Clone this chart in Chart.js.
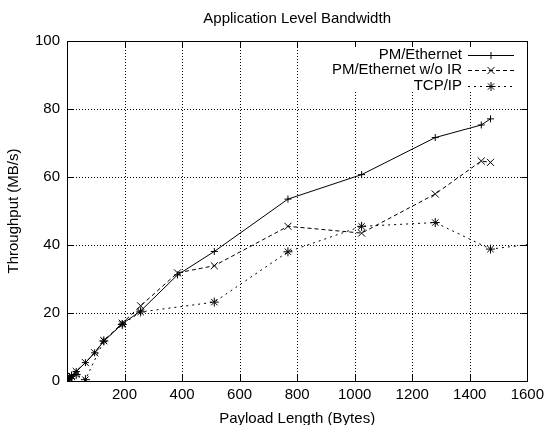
<!DOCTYPE html>
<html>
<head>
<meta charset="utf-8">
<script src="https://cdn.jsdelivr.net/npm/chart.js@4.4.0/dist/chart.umd.min.js"></script>
<style>
  html, body { margin: 0; padding: 0; background: #fff; }
</style>
</head>
<body>
<canvas id="chart" width="549" height="425"></canvas>
<script>
const chartTitle = 'Application Level Bandwidth'
const seriesNames = ['PM/Ethernet', 'PM/Ethernet w/o IR', 'TCP/IP']

// payload length (bytes) / throughput (MB/s)
const pmLength = [4, 8, 16, 32, 64, 96, 128, 192, 256, 384, 512, 768, 1024, 1280, 1440, 1472]
const pmThroughput = [0.3, 0.7, 1.3, 2.8, 5.4, 8.3, 11.7, 16.8, 20.6, 31.2, 38.1, 53.5, 60.7, 71.6, 75.3, 77.1]

const noIrLength = [4, 8, 16, 32, 64, 96, 128, 192, 256, 384, 512, 768, 1024, 1280, 1440, 1472]
const noIrThroughput = [0.3, 0.7, 1.3, 2.8, 5.4, 8.3, 11.9, 17.0, 22.1, 31.8, 33.9, 45.5, 43.5, 55.0, 64.7, 64.3]

const tcpLength = [4, 8, 16, 32, 64, 128, 192, 256, 512, 768, 1024, 1280, 1472, 1700]
const tcpThroughput = [0.5, 0.9, 1.5, 1.9, 0.4, 11.8, 16.6, 20.3, 23.2, 38.0, 45.5, 46.6, 38.8, 41.1]

const xTicks = [0, 200, 400, 600, 800, 1000, 1200, 1400, 1600]
const yTicks = [0, 20, 40, 60, 80, 100]

const FONT = '"Liberation Sans", Arial, Helvetica, sans-serif'

const zip = (xs, ys) => xs.map((x, i) => ({ x: x, y: ys[i] }))

const makeSet = (label, xs, ys, dash, style, radius) => ({
   label: label,
   data: zip(xs, ys),
   borderColor: '#000',
   borderWidth: 1,
   borderDash: dash,
   pointStyle: style,
   pointRadius: radius,
   pointHoverRadius: radius,
   pointBorderColor: '#000',
   pointBackgroundColor: '#000',
   pointBorderWidth: 1,
   fill: false,
   tension: 0
})

const datasets = [
   makeSet(seriesNames[0], pmLength, pmThroughput, [], 'cross', 3.5),
   makeSet(seriesNames[1], noIrLength, noIrThroughput, [4, 3], 'crossRot', 5),
   makeSet(seriesNames[2], tcpLength, tcpThroughput, [2, 4], 'star', 4.5)
]

// dotted grid, drawn under the data
const dottedGrid = {
   id: 'dottedGrid',
   beforeDatasetsDraw(chart) {
      const { ctx, chartArea: a, scales } = chart
      ctx.save()
      ctx.strokeStyle = '#000'
      ctx.lineWidth = 1
      ctx.setLineDash([1, 2])
      ctx.beginPath()
      xTicks.slice(1, -1).forEach(v => {
         const px = Math.round(scales.x.getPixelForValue(v)) + 0.5
         ctx.moveTo(px, a.top); ctx.lineTo(px, a.bottom)
      })
      yTicks.slice(1, -1).forEach(v => {
         const py = Math.round(scales.y.getPixelForValue(v)) + 0.5
         ctx.moveTo(a.left, py); ctx.lineTo(a.right, py)
      })
      ctx.stroke()
      ctx.restore()
   }
}

// gnuplot style frame: key box, border, inward ticks, title
const frame = {
   id: 'frame',
   afterDatasetsDraw(chart) {
      const { ctx, chartArea: a, scales } = chart
      ctx.save()

      // key background hides grid under it
      ctx.fillStyle = '#fff'
      ctx.fillRect(325, a.top + 1, a.right - 326, 50)

      // border
      ctx.setLineDash([])
      ctx.strokeStyle = '#000'
      ctx.lineWidth = 1
      ctx.strokeRect(Math.round(a.left) + 0.5, Math.round(a.top) + 0.5,
         Math.round(a.right - a.left), Math.round(a.bottom - a.top))

      // inward tick marks
      const len = 6
      ctx.beginPath()
      xTicks.forEach(v => {
         const px = Math.round(scales.x.getPixelForValue(v)) + 0.5
         ctx.moveTo(px, a.bottom); ctx.lineTo(px, a.bottom - len)
         ctx.moveTo(px, a.top); ctx.lineTo(px, a.top + len)
      })
      yTicks.forEach(v => {
         const py = Math.round(scales.y.getPixelForValue(v)) + 0.5
         ctx.moveTo(a.left, py); ctx.lineTo(a.left + len, py)
         ctx.moveTo(a.right, py); ctx.lineTo(a.right - len, py)
      })
      ctx.stroke()

      // key
      ctx.font = '15px ' + FONT
      ctx.fillStyle = '#000'
      ctx.textAlign = 'right'
      ctx.textBaseline = 'middle'
      chart.data.datasets.forEach((ds, i) => {
         const ry = a.top + 13.5 + i * 15.5
         ctx.fillText(ds.label, 462, ry)
         ctx.setLineDash(ds.borderDash)
         ctx.beginPath()
         ctx.moveTo(468, Math.round(ry) + 0.5)
         ctx.lineTo(514, Math.round(ry) + 0.5)
         ctx.stroke()
         ctx.setLineDash([])
         Chart.helpers.drawPoint(ctx, {
            pointStyle: ds.pointStyle, radius: ds.pointRadius, rotation: 0, borderWidth: 1
         }, 491, Math.round(ry) + 0.5)
      })

      // title
      ctx.textAlign = 'center'
      ctx.fillText(chartTitle, (a.left + a.right) / 2, 18.5)
      ctx.restore()
   }
}

new Chart(document.getElementById('chart'), {
   type: 'line',
   data: { datasets: datasets },
   plugins: [dottedGrid, frame],
   options: {
      responsive: false,
      animation: false,
      devicePixelRatio: 1,
      layout: { padding: { top: 41, right: 18, left: 0, bottom: 0 } },
      plugins: {
         legend: { display: false },
         title: { display: false },
         tooltip: { enabled: false }
      },
      scales: {
         x: {
            type: 'linear',
            min: 0,
            max: 1600,
            afterFit: scale => { scale.height = 44 },
            afterBuildTicks: scale => { scale.ticks = xTicks.map(v => ({ value: v })) },
            ticks: {
               color: '#000',
               padding: 5,
               maxRotation: 0,
               font: { family: FONT, size: 15 },
               callback: v => v === 0 ? '' : v
            },
            grid: { display: false, drawTicks: false },
            border: { display: false },
            title: {
               display: true,
               text: 'Payload Length (Bytes)',
               color: '#000',
               font: { family: FONT, size: 15, lineHeight: 1 },
               padding: { top: 0, bottom: -1 }
            }
         },
         y: {
            type: 'linear',
            min: 0,
            max: 100,
            afterFit: scale => { scale.width = 67 },
            afterBuildTicks: scale => { scale.ticks = yTicks.map(v => ({ value: v })) },
            ticks: {
               color: '#000',
               padding: 7,
               font: { family: FONT, size: 15 }
            },
            grid: { display: false, drawTicks: false },
            border: { display: false },
            title: {
               display: true,
               text: 'Throughput (MB/s)',
               color: '#000',
               font: { family: FONT, size: 15, lineHeight: 1 },
               padding: { top: 6, bottom: 0 }
            }
         }
      }
   }
})
</script>
</body>
</html>
